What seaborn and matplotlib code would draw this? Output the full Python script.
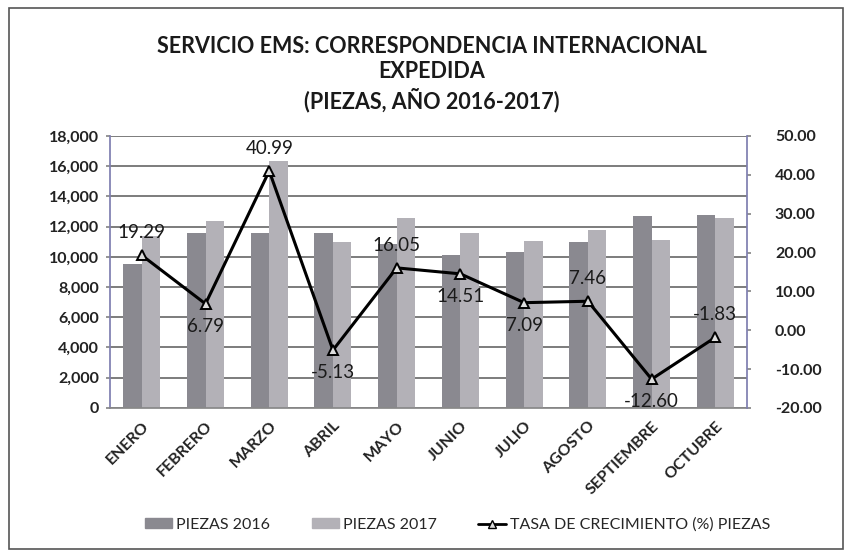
import matplotlib
matplotlib.use("Agg")
import matplotlib.pyplot as plt
from matplotlib.patches import Rectangle
import seaborn as sns
import pandas as pd

# Data
meses = ['ENERO', 'FEBRERO', 'MARZO', 'ABRIL', 'MAYO', 'JUNIO',
         'JULIO', 'AGOSTO', 'SEPTIEMBRE', 'OCTUBRE']
piezas_2016 = [9550, 11610, 11610, 11610, 10860, 10130, 10350, 10950, 12720, 12780]
piezas_2017 = [11390, 12400, 16370, 11015, 12600, 11600, 11080, 11770, 11120, 12550]
tasa = [19.29, 6.79, 40.99, -5.13, 16.05, 14.51, 7.09, 7.46, -12.60, -1.83]
# label placement above (1) or below (-1) each point
label_pos = [1, -1, 1, -1, 1, -1, -1, 1, -1, 1]

left_ticks = list(range(0, 18001, 2000))
right_ticks = list(range(-20, 51, 10))

df = pd.DataFrame({
    'mes': meses * 2,
    'piezas': piezas_2016 + piezas_2017,
    'serie': ['PIEZAS 2016'] * len(meses) + ['PIEZAS 2017'] * len(meses),
})

sns.set_theme(style='white')
plt.rcParams['font.family'] = ['Lato', 'DejaVu Sans']

fig = plt.figure(figsize=(8.52, 5.55), dpi=100)
ax = fig.add_axes([0.129, 0.265, 0.748, 0.49])

# Horizontal grid behind bars
for t in left_ticks:
    ax.axhline(t, color='#666666', linewidth=1.2, zorder=0)

sns.barplot(data=df, x='mes', y='piezas', hue='serie', ax=ax,
            palette=['#8a8990', '#b3b1b7'], width=0.58, gap=0,
            saturation=1, edgecolor='none', legend=False, zorder=2)

ax.set_ylim(0, 18000)
ax.set_yticks(left_ticks)
ax.set_yticklabels([f'{t:,}' for t in left_ticks], fontsize=11.5, fontweight='bold',
                   color='#222222')
ax.set_xlim(-0.5, len(meses) - 0.5)
ax.set_xticks(range(len(meses)))
ax.set_xticklabels(meses, rotation=45, ha='right', rotation_mode='anchor',
                   fontsize=11.5, fontweight='bold', color='#222222')
ax.set_xlabel('')
ax.set_ylabel('')
ax.tick_params(axis='y', length=3, pad=5, color='#888888', left=True)
ax.tick_params(axis='x', length=0, pad=8)
for s in ['top', 'right']:
    ax.spines[s].set_visible(False)
ax.spines['left'].set_color('#7f7fb0')
ax.spines['bottom'].set_color('#888888')

ax2 = ax.twinx()
sns.pointplot(x=meses, y=tasa, ax=ax2, color='black', markers='^',
              linewidth=2.2, markersize=7, markerfacecolor='#dddddd',
              markeredgecolor='black', markeredgewidth=1.4, zorder=5)
ax2.set_ylim(-20, 50)
ax2.set_yticks(right_ticks)
ax2.set_yticklabels([f'{t:.2f}' for t in right_ticks], fontsize=11.5,
                    fontweight='bold', color='#222222')
ax2.set_xlim(-0.5, len(meses) - 0.5)
ax2.tick_params(axis='y', length=3, pad=17, color='#888888', right=True)
for s in ['top', 'left', 'bottom']:
    ax2.spines[s].set_visible(False)
ax2.spines['right'].set_color('#7f7fb0')
ax2.set_ylabel('')

for i, (v, p) in enumerate(zip(tasa, label_pos)):
    ax2.annotate(f'{v:.2f}', (i, v), xytext=(0, 10 * p), textcoords='offset points',
                 ha='center', va='bottom' if p > 0 else 'top', fontsize=13.5,
                 color='#1a1a1a', zorder=6)

fig.text(0.507, 0.935, 'SERVICIO EMS: CORRESPONDENCIA INTERNACIONAL\nEXPEDIDA\n(PIEZAS, AÑO 2016-2017)',
         ha='center', va='top', fontsize=15.5, fontweight='bold',
         linespacing=1.25, color='#1a1a1a')

# Legend at the bottom
h1 = Rectangle((0, 0), 1, 1, color='#8a8990')
h2 = Rectangle((0, 0), 1, 1, color='#b3b1b7')
h3 = plt.Line2D([], [], color='black', linewidth=2, marker='^', markersize=6,
                markerfacecolor='#dddddd', markeredgecolor='black')
fig.legend([h1, h2, h3], ['PIEZAS 2016', 'PIEZAS 2017', 'TASA DE CRECIMIENTO (%) PIEZAS'],
           loc='center', bbox_to_anchor=(0.537, 0.055), ncol=3, frameon=False,
           fontsize=11.5, handlelength=1.7, handleheight=0.5, columnspacing=2.6,
           handletextpad=0.25)

# Outer chart border
fig.patches.append(Rectangle((0.01, 0.01), 0.98, 0.975, transform=fig.transFigure,
                             fill=False, edgecolor='#555555', linewidth=1.2))

fig.savefig('out.png', dpi=100)
